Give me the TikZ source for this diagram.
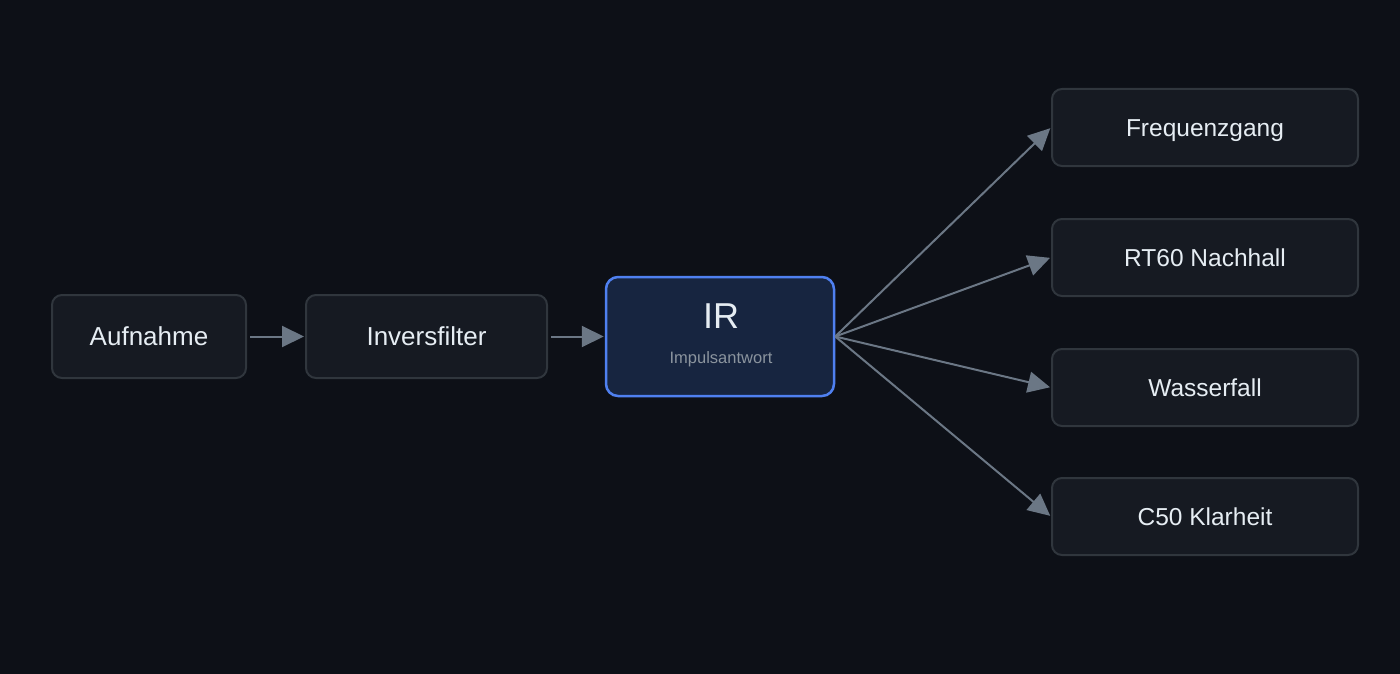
\documentclass[tikz,border=0pt]{standalone}
\usepackage{fontspec}
\setmainfont{Liberation Sans}
\usetikzlibrary{arrows.meta}
\definecolor{bg}{HTML}{0D1017}
\definecolor{boxfill}{HTML}{161A22}
\definecolor{boxline}{HTML}{30363D}
\definecolor{txt}{HTML}{E6EDF3}
\definecolor{subtxt}{HTML}{8B949E}
\definecolor{irfill}{HTML}{172540}
\definecolor{irline}{HTML}{4F80F0}
\definecolor{arr}{HTML}{6B7785}
\tikzset{
  box/.style={draw=boxline, fill=boxfill, line width=2pt, rounded corners=10pt,
    text=txt, font=\fontsize{24.5}{28}\selectfont, inner sep=0pt,
    text height=17.5pt, text depth=0pt},
  bigbox/.style={box, font=\fontsize{26}{30}\selectfont, text height=18.6pt},
  irbox/.style={draw=irline, fill=irfill, line width=2.5pt, rounded corners=12pt,
    inner sep=0pt},
  conn/.style={draw=arr, line width=2pt, -{Triangle[length=22pt,width=21pt]}}
}
\begin{document}
\begin{tikzpicture}[x=1pt,y=-1pt]
\fill[bg] (0,0) rectangle (1400,674);
\useasboundingbox (0,0) rectangle (1400,674);
\node[bigbox, minimum width=194pt, minimum height=83pt] (auf) at (149,336.5) {Aufnahme};
\node[bigbox, minimum width=241pt, minimum height=83pt] (inv) at (426.5,336.5) {Inversfilter};
\node[irbox, minimum width=228pt, minimum height=119pt] (ir) at (720,336.5) {};
\node[text=txt, font=\fontsize{36}{40}\selectfont] (irt) at (721,316) {IR};
\node[text=subtxt, font=\fontsize{16.5}{18}\selectfont] (irs) at (721,359) {Impulsantwort};
\node[box, minimum width=306pt, minimum height=77pt] (fr) at (1205,127.5) {Frequenzgang};
\node[box, minimum width=306pt, minimum height=77pt] (rt) at (1205,257.5) {RT60 Nachhall};
\node[box, minimum width=306pt, minimum height=77pt] (wa) at (1205,387.5) {Wasserfall};
\node[box, minimum width=306pt, minimum height=77pt] (c5) at (1205,516.5) {C50 Klarheit};
\draw[conn, shorten <=3pt, shorten >=1pt] (auf.east) -- (inv.west);
\draw[conn, shorten <=3pt, shorten >=1pt] (inv.east) -- (ir.west);
\draw[conn, shorten >=1pt] (ir.east) -- (fr.west);
\draw[conn, shorten >=1pt] (ir.east) -- (rt.west);
\draw[conn, shorten >=1pt] (ir.east) -- (wa.west);
\draw[conn, shorten >=1pt] (ir.east) -- (c5.west);
\end{tikzpicture}
\end{document}
